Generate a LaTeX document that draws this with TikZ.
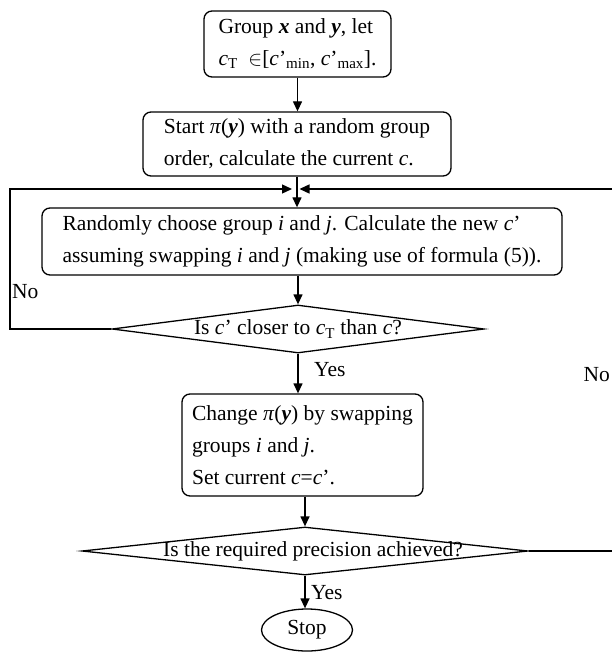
\documentclass[tikz,border=0pt]{standalone}
\usepackage{fontspec}
\setmainfont{Liberation Serif}
\usetikzlibrary{arrows.meta,shapes.geometric}
\begin{document}
\begin{tikzpicture}[x=1pt,y=-1pt,
  every node/.style={font=\fontsize{21.5}{32}\selectfont},
  proc/.style={draw,rounded corners=8pt,line width=1.3pt,align=left,inner sep=0pt},
  dec/.style={draw,diamond,line width=1.3pt,inner sep=0pt},
  term/.style={draw,ellipse,line width=1.3pt,inner sep=0pt},
  flow/.style={line width=1.3pt,-{Triangle[length=10pt,width=9pt]}},
  lab/.style={anchor=west,inner sep=0pt}]
\useasboundingbox[fill=white] (0,0) rectangle (611,652);

\node[proc,minimum width=187pt,minimum height=66pt] (b1) at (297.5,44)
  {Group \textbf{\textit{x}} and \textbf{\textit{y}}, let\\\textit{c}\textsubscript{T}\enspace$\in$[\textit{c}'\textsubscript{min}, \textit{c}'\textsubscript{max}].};
\node[proc,minimum width=308pt,minimum height=64pt] (b2) at (297,144)
  {Start \textit{π}(\textbf{\textit{y}}) with a random group\\order, calculate the current \textit{c}.};
\node[proc,minimum width=520pt,minimum height=67pt] (b3) at (302,241.5)
  {Randomly choose group \textit{i} and \textit{j}. Calculate the new \textit{c}'\\assuming swapping \textit{i} and \textit{j} (making use of formula (5)).};
\node[dec,minimum width=372pt,minimum height=48pt] (d1) at (298,329) {};
\node (d1t) at (d1) {Is \textit{c}' closer to \textit{c}\textsubscript{T} than \textit{c}?};
\node[proc,minimum width=241pt,minimum height=102pt] (b4) at (302.5,445)
  {Change \textit{π}(\textbf{\textit{y}}) by swapping\\groups \textit{i} and \textit{j}.\\Set current \textit{c}=\textit{c}'.};
\node[dec,minimum width=446pt,minimum height=48pt] (d2) at (305,551) {};
\node (d2t) at (313,551) {Is the required precision achieved?};
\node[term,minimum width=91pt,minimum height=42pt] (stop) at (307,630) {Stop};

\coordinate (mL) at (292,189);
\coordinate (mR) at (299.5,189);
\coordinate (lx) at (10,189);
\coordinate (rx) at (614,189);

\draw[flow] (b1.south) -- (b1.south |- b2.north);
\draw[flow] (b2.south) -- (b2.south |- b3.north);
\draw[flow] (d1.north |- b3.south) -- (d1.north);
\draw[flow] (d1.south) -- (d1.south |- b4.north);
\draw[flow] (d2.north |- b4.south) -- (d2.north);
\draw[flow] (d2.south) -- (d2.south |- stop.north);
\draw[flow] (d1.west) -| (lx) -- (mL);
\draw[flow] (d2.east) -| (rx) -- (mR);

\node[lab] (no1) at (12,292) {No};
\node[anchor=east,inner sep=0pt] (no2) at (610,375) {No};
\node[lab] (yes1) at (314,370) {Yes};
\node[lab] (yes2) at (311,593) {Yes};
\end{tikzpicture}
\end{document}
